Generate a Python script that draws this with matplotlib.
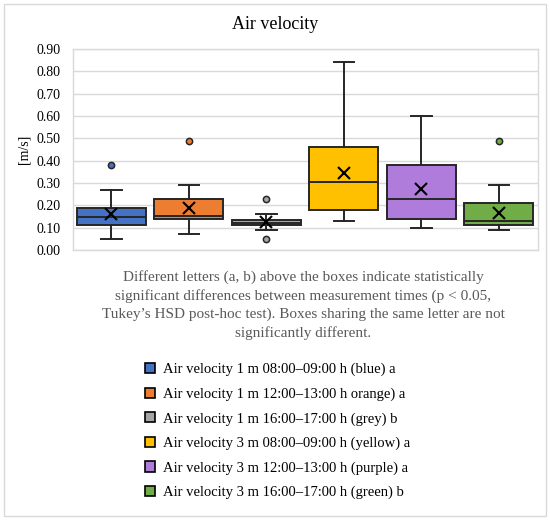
import matplotlib
matplotlib.use('Agg')
import matplotlib.pyplot as plt
from matplotlib.patches import Patch, Rectangle

plt.rcParams['font.family'] = ['Liberation Serif', 'DejaVu Serif']

# box statistics [m/s]
labels = [
    'Air velocity 1 m 08:00\u201309:00 h (blue) a',
    'Air velocity 1 m 12:00\u201313:00 h orange) a',
    'Air velocity 1 m 16:00\u201317:00 h (grey) b',
    'Air velocity 3 m 08:00\u201309:00 h (yellow) a',
    'Air velocity 3 m 12:00\u201313:00 h (purple) a',
    'Air velocity 3 m 16:00\u201317:00 h (green) b',
]
colors = ['#4472C4', '#ED7D31', '#A5A5A5', '#FFC000', '#B07CDB', '#70AD47']
whisker_low = [0.05, 0.07, 0.09, 0.13, 0.10, 0.09]
q1 = [0.11, 0.137, 0.11, 0.18, 0.14, 0.11]
medians = [0.147, 0.153, 0.12, 0.305, 0.23, 0.13]
q3 = [0.19, 0.23, 0.133, 0.46, 0.38, 0.21]
whisker_high = [0.27, 0.29, 0.16, 0.84, 0.60, 0.29]
means = [0.16, 0.19, 0.125, 0.345, 0.275, 0.167]
outliers = [[0.38], [0.49], [0.23, 0.05], [], [], [0.49]]

caption = ("Different letters (a, b) above the boxes indicate statistically\n"
           "significant differences between measurement times (p < 0.05,\n"
           "Tukey\u2019s HSD post-hoc test). Boxes sharing the same letter are not\n"
           "significantly different.")

stats = []
for i in range(len(labels)):
    stats.append({
        'whislo': whisker_low[i], 'q1': q1[i], 'med': medians[i],
        'q3': q3[i], 'whishi': whisker_high[i], 'mean': means[i],
        'fliers': outliers[i],
    })

fig = plt.figure(figsize=(5.5, 5.2), dpi=100)
ax = fig.add_axes([0.1322, 0.5192, 0.8455, 0.3865])

edge = '#262626'
bp = ax.bxp(stats, positions=range(1, 7), widths=0.89, capwidths=0.26,
            patch_artist=True, showmeans=True,
            boxprops=dict(edgecolor=edge, linewidth=1.4),
            whiskerprops=dict(color=edge, linewidth=1.4),
            capprops=dict(color=edge, linewidth=1.4),
            medianprops=dict(color=edge, linewidth=1.4),
            meanprops=dict(marker='x', markersize=8, markeredgecolor='black',
                           markeredgewidth=1.5))
for i, box in enumerate(bp['boxes']):
    box.set_facecolor(colors[i])
for i, fl in enumerate(bp['fliers']):
    fl.set(marker='o', markersize=4.5, markerfacecolor=colors[i],
           markeredgecolor=edge, markeredgewidth=1.1)

ax.set_xlim(0.5, 6.5)
ax.set_ylim(0, 0.9)
ax.set_yticks([i / 10 for i in range(10)])
ax.set_yticklabels([f'{i / 10:.2f}' for i in range(10)], fontsize=10)
ax.set_xticks([])
ax.tick_params(axis='y', length=0, pad=9)
ax.yaxis.grid(True, color='#D9D9D9', linewidth=1)
ax.set_axisbelow(True)
for s in ax.spines.values():
    s.set_color('#D9D9D9')
    s.set_linewidth(1)
ax.set_ylabel('[m/s]', fontsize=10, labelpad=4)

fig.text(0.5, 0.953, 'Air velocity', ha='center', va='center', fontsize=13)
fig.text(303 / 550, 0.4135, caption, ha='center', va='center',
         fontsize=11, color='#595959', linespacing=1.45)

handles = [Patch(facecolor=c, edgecolor='black', linewidth=1.2) for c in colors]
fig.legend(handles, labels, loc='upper left', bbox_to_anchor=(145 / 550, 0.302),
           frameon=False, fontsize=10.5, handlelength=0.7, handleheight=0.7,
           handletextpad=0.55, labelspacing=0.76, borderpad=0, borderaxespad=0)

fig.add_artist(Rectangle((4 / 550, 4 / 520), 542 / 550, 512 / 520,
                         transform=fig.transFigure, fill=False,
                         edgecolor='#D9D9D9', linewidth=1))

fig.savefig('out.png', dpi=100)
